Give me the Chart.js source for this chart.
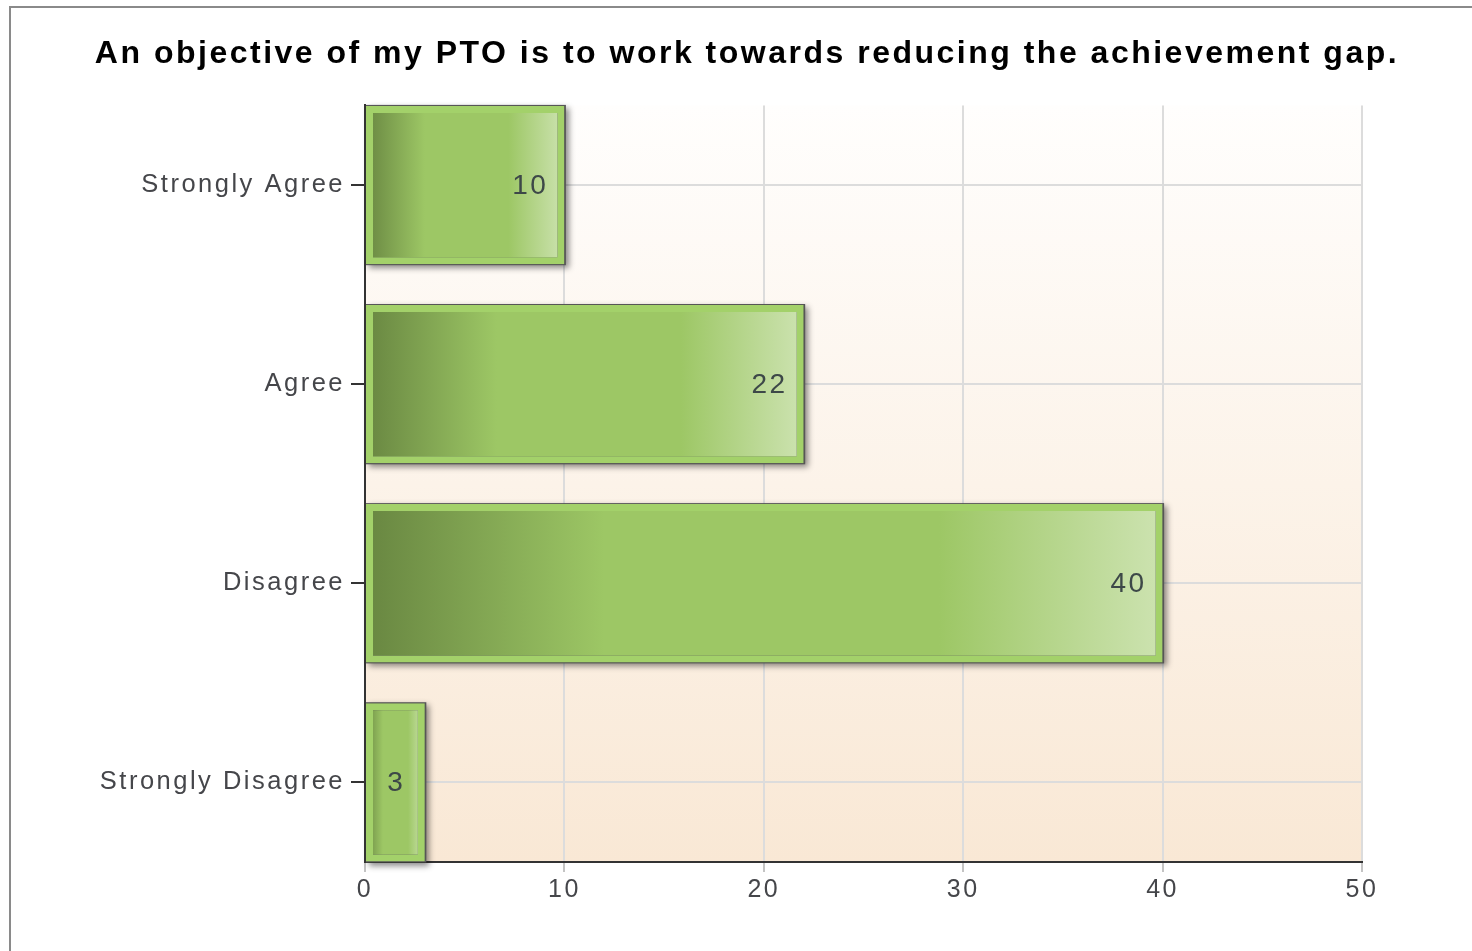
<!DOCTYPE html>
<html lang="en">
<head>
<meta charset="UTF-8">
<title>PTO survey</title>
<style>
  html, body { margin: 0; padding: 0; background: #fff; overflow: hidden; }
  #frame { position: absolute; left: 9px; top: 6px; width: 1600px; height: 1100px; border: 2px solid #8a8a8a; }
  #chart { position: absolute; left: 0; top: 0; }
</style>
</head>
<body>
<div id="frame"></div>
<canvas id="chart" width="1472" height="951"></canvas>

<script src="https://cdn.jsdelivr.net/npm/chart.js"></script>
<script>
  const titleText = 'An objective of my PTO is to work towards reducing the achievement gap.';
  const categories = ['Strongly Agree', 'Agree', 'Disagree', 'Strongly Disagree'];
  const counts = [10, 22, 40, 3];
  const xTicks = [0, 10, 20, 30, 40, 50];

  const fontFamily = '"Liberation Sans", Arial, sans-serif';
  const spacing = '2.5px';

  // gradient across each bar, from its base to its end
  function barFill(c) {
    const chart = c.chart;
    const xs = chart.scales.x;
    if (!xs || c.dataIndex === undefined) return '#9dc765';
    const x0 = xs.getPixelForValue(0);
    const x1 = xs.getPixelForValue(counts[c.dataIndex]);
    if (!isFinite(x0) || !isFinite(x1) || x1 === x0) return '#9dc765';
    const g = chart.ctx.createLinearGradient(x0, 0, x1, 0);
    g.addColorStop(0, '#688641');
    g.addColorStop(0.3, '#9dc765');
    g.addColorStop(0.72, '#9dc765');
    g.addColorStop(1, '#cde3b1');
    return g;
  }

  const decor = {
    id: 'decor',
    beforeLayout(chart) {
      chart.ctx.letterSpacing = spacing;
    },
    afterLayout(chart) {
      // centre the title at x=747, box wide enough not to squeeze it
      const t = chart.titleBlock;
      if (!t) return;
      t.left = 32;
      t.right = chart.chartArea.right + 100;
    },
    beforeDraw(chart) {
      const ctx = chart.ctx;
      const a = chart.chartArea;
      ctx.letterSpacing = spacing;
      if (!a || !isFinite(a.top) || !isFinite(a.bottom)) return;
      ctx.save();
      const g = ctx.createLinearGradient(0, a.top, 0, a.bottom);
      g.addColorStop(0, '#fffefd');
      g.addColorStop(1, '#f9e8d5');
      ctx.fillStyle = g;
      ctx.fillRect(a.left, a.top, a.right - a.left, a.bottom - a.top);
      ctx.restore();
    },
    beforeDatasetsDraw(chart) {
      // dark outline + drop shadow behind the bars
      const ctx = chart.ctx;
      const meta = chart.getDatasetMeta(0);
      ctx.save();
      ctx.shadowColor = 'rgba(0,0,0,0.45)';
      ctx.shadowBlur = 6;
      ctx.shadowOffsetX = 3;
      ctx.shadowOffsetY = 3;
      ctx.fillStyle = '#565656';
      meta.data.forEach(bar => {
        const p = bar.getProps(['x', 'y', 'base', 'height'], true);
        ctx.fillRect(p.base, p.y - p.height / 2 - 1, p.x - p.base + 1.5, p.height + 2);
      });
      ctx.restore();
    },
    afterDatasetsDraw(chart) {
      const ctx = chart.ctx;
      const a = chart.chartArea;
      const meta = chart.getDatasetMeta(0);
      const x0 = chart.scales.x.getPixelForValue(0);
      ctx.save();
      // left axis line stays visible over the bars
      ctx.strokeStyle = '#333';
      ctx.lineWidth = 2;
      ctx.beginPath();
      ctx.moveTo(x0, a.top);
      ctx.lineTo(x0, a.bottom);
      ctx.stroke();

      ctx.font = '28px ' + fontFamily;
      ctx.fillStyle = '#3d4848';
      ctx.textBaseline = 'middle';
      meta.data.forEach((bar, i) => {
        const p = bar.getProps(['x', 'y', 'base'], true);
        const txt = String(counts[i]);
        const w = ctx.measureText(txt).width;
        if (p.x - p.base < w + 60) {
          ctx.textAlign = 'center';
          ctx.fillText(txt, (p.x + p.base) / 2 + 1, p.y + 1);
        } else {
          ctx.textAlign = 'right';
          ctx.fillText(txt, p.x - 16, p.y + 1);
        }
      });
      ctx.restore();
    }
  };

  new Chart(document.getElementById('chart'), {
    type: 'bar',
    data: {
      datasets: [{
        data: counts.map((v, i) => ({ x: v, y: i })),
        backgroundColor: barFill,
        borderColor: '#a3d16a',
        borderWidth: 7,
        borderSkipped: false,
        categoryPercentage: 1,
        barPercentage: 0.795
      }]
    },
    options: {
      indexAxis: 'y',
      responsive: false,
      animation: false,
      devicePixelRatio: 1,
      layout: { padding: { left: 40, right: 110, top: 0, bottom: 0 } },
      plugins: {
        legend: { display: false },
        tooltip: { enabled: false },
        title: {
          display: true,
          text: titleText,
          color: '#000',
          font: { family: fontFamily, size: 32, weight: 'bold', lineHeight: 1.2 },
          padding: { top: 35, bottom: 32 }
        }
      },
      scales: {
        x: {
          type: 'linear',
          min: 0,
          max: 50,
          afterBuildTicks: s => { s.ticks = xTicks.map(v => ({ value: v })); },
          afterFit: s => { s.height = 89; },
          ticks: { color: '#45464a', font: { family: fontFamily, size: 25 }, padding: 3 },
          grid: { color: '#dcdcdc', lineWidth: 2, tickLength: 10, tickColor: '#c4c4c4', tickWidth: 2 },
          border: { color: '#333', width: 2 }
        },
        y: {
          type: 'linear',
          reverse: true,
          offset: false,
          min: -0.4,
          max: 3.4,
          afterBuildTicks: s => { s.ticks = categories.map((c, i) => ({ value: i })); },
          afterFit: s => { s.width = 325; },
          ticks: {
            color: '#45464a',
            font: { family: fontFamily, size: 25.5 },
            padding: 6,
            autoSkip: false,
            callback: v => categories[v]
          },
          grid: { offset: false, color: '#dcdcdc', lineWidth: 2, tickLength: 14, tickColor: '#333', tickWidth: 2 },
          border: { color: '#333', width: 2 }
        }
      }
    },
    plugins: [decor]
  });
</script>
</body>
</html>
